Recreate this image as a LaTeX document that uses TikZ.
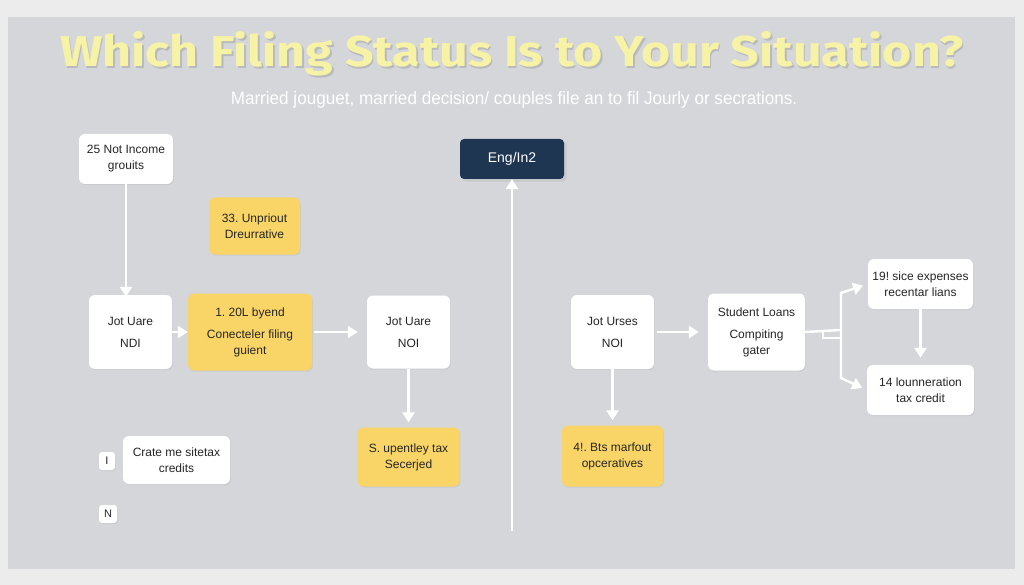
\documentclass[tikz,border=0pt]{standalone}
\usepackage{fontspec}
\setmainfont{Liberation Sans}
\newfontfamily\titlefont{Fira Sans}
\usetikzlibrary{positioning, shadows, arrows.meta}
\definecolor{outergray}{HTML}{ECECEC}
\definecolor{panelgray}{HTML}{D5D6DA}
\definecolor{cardyellow}{HTML}{F8D566}
\definecolor{cardtext}{HTML}{262626}
\definecolor{navy}{HTML}{1F3652}
\definecolor{titleyellow}{HTML}{F6F2A6}
\frenchspacing
\tikzset{
    card/.style={fill=white, rounded corners=6pt, align=center, text=cardtext, inner sep=0pt,
      font=\fontsize{12}{16}\selectfont, drop shadow={opacity=0.12, shadow xshift=0.8pt, shadow yshift=-1.2pt}},
    cardY/.style={card, fill=cardyellow},
    tag/.style={card, rounded corners=3pt, minimum width=16pt, minimum height=18pt, font=\fontsize{11}{12}\selectfont},
    flow/.style={white, line width=2.4pt, -{Triangle[length=10pt, width=12pt]}},
    node distance=1.5
}
\newcommand{\gap}{\\[6pt]}
\newcommand{\headline}{\resizebox{903pt}{35pt}{\titlefont\bfseries\fontsize{48}{52}\selectfont Which Filing Status Is to Your Situation?}}

\begin{document}
\begin{tikzpicture}[x=1pt, y=1pt, on grid, auto]
  \useasboundingbox (0,0) rectangle (1024,-585);
  \fill[outergray] (0,0) rectangle (1024,-585);
  \fill[panelgray] (8,-17) rectangle (1015,-569);

  % heading
  \node[text=black!40, opacity=0.45, inner sep=0pt, anchor=base] (shade) at (513.5,-68.5) {\headline};
  \node[text=titleyellow, inner sep=0pt, anchor=base] (title) at (512,-67) {\headline};
  \node[text=white] (sub) at (514,-100) {\scalebox{0.95}[1]{\fontsize{18}{20}\selectfont Married jouguet, married decision/ couples file an to fil Jourly or secrations.}};

  % left column
  \node[card, minimum width=94pt, minimum height=50pt] (inc) at (126,-159) {25 Not Income\\grouits};
  \node[cardY, minimum width=91pt, minimum height=57pt] (unp) at (254.5,-226) {33. Unpriout\\Dreurrative};
  \node[card, minimum width=83pt, minimum height=74pt] (ju1) at (130.5,-332) {Jot Uare\gap NDI};
  \node[cardY, minimum width=124pt, minimum height=77pt, right = 119.5pt of ju1] (fil) {1. 20L byend\gap Conecteler filing\\guient};
  \node[card, minimum width=83pt, minimum height=73pt, right = 278pt of ju1] (ju2) {Jot Uare\gap NOI};
  \node[cardY, minimum width=102pt, minimum height=59pt, below = 125pt of ju2] (upt) {S. upentley tax\\Secerjed};
  \node[card, minimum width=107pt, minimum height=48pt] (cre) at (176.5,-460) {Crate me sitetax\\credits};
  \node[tag] (tagI) at (107,-461) {I};
  \node[tag, minimum width=18pt] (tagN) at (108,-514) {N};

  % middle
  \node[fill=navy, rounded corners=4pt, text=white, minimum width=104pt, minimum height=40pt,
    font=\fontsize{14}{16}\selectfont, drop shadow={opacity=0.15}] (eng) at (512,-159) {Eng/In2};
  \coordinate (foot) at (512,-531);

  % right column
  \node[card, minimum width=83pt, minimum height=74pt] (ju3) at (612.5,-332) {Jot Urses\gap NOI};
  \node[card, minimum width=97pt, minimum height=77pt, right = 144pt of ju3] (stu) {Student Loans\gap Compiting\\gater};
  \node[cardY, minimum width=101pt, minimum height=61pt, below = 124pt of ju3] (bts) {4!. Bts marfout\\opceratives};
  \node[card, minimum width=105pt, minimum height=50pt] (exp) at (920.5,-284) {19! sice expenses\\recentar lians};
  \node[card, minimum width=107pt, minimum height=50pt, below = 106pt of exp] (lou) {14 lounneration\\tax credit};
  \coordinate (fork) at (841,-330);
  \coordinate (forkup) at (841,-293);
  \coordinate (forkdn) at (841,-378);
  \coordinate (stub) at (823,-330);
  \coordinate (stubend) at (841,-338);

  \draw[flow] (inc.south) -- ([yshift=-2pt]ju1.north -| inc.south);
  \draw[flow] (ju1) -- (fil);
  \draw[flow, shorten <=2pt, shorten >=9pt] (fil) -- (ju2);
  \draw[flow, shorten >=5pt] (ju2) -- (upt);
  \draw[flow] (foot) -- (eng);
  \draw[flow, shorten <=3pt, shorten >=9pt] (ju3) -- (stu);
  \draw[flow, shorten >=5pt] (ju3) -- (bts);
  \draw[white, line width=2.4pt] (stu.east) -- (fork);
  \draw[white, line width=2.4pt] (stub) |- (stubend);
  \draw[flow, shorten >=5pt] (fork) -- (forkup) -- (exp.west);
  \draw[flow, shorten >=5pt] (fork) -- (forkdn) -- (lou.west);
  \draw[flow, shorten >=7pt] (exp) -- (lou);
\end{tikzpicture}
\end{document}
